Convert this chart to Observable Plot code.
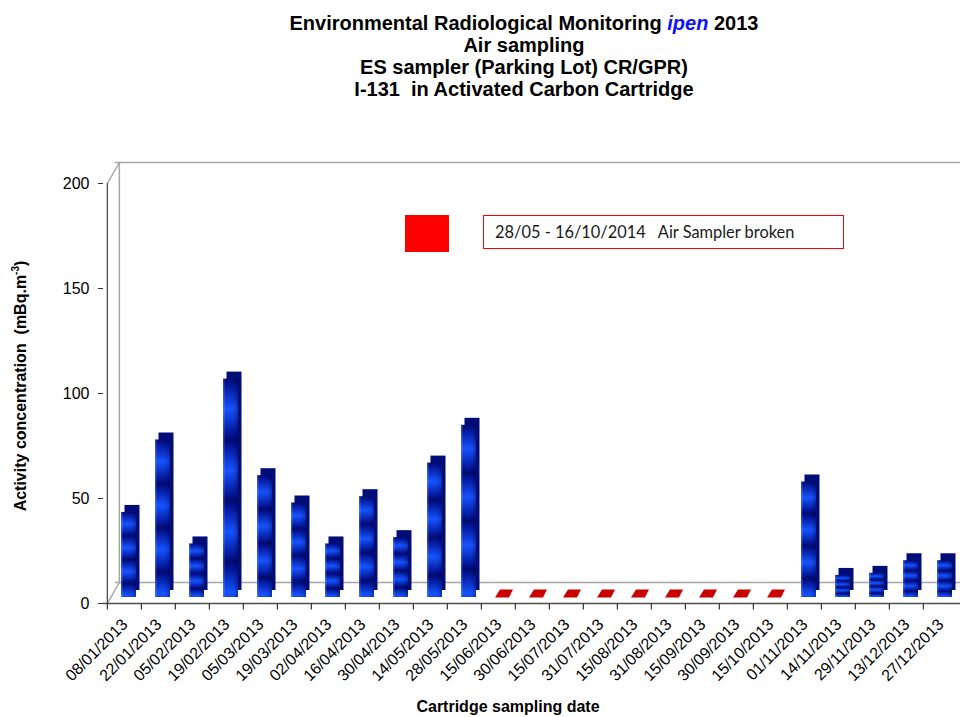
<!DOCTYPE html>
<html><head><meta charset="utf-8">
<script src="https://cdn.jsdelivr.net/npm/d3@7"></script>
<script src="https://cdn.jsdelivr.net/npm/@observablehq/plot@0.6"></script>
<style>
body{margin:0;background:#fff;}
#wrap{position:relative;width:960px;height:717px;overflow:hidden;font-family:"Liberation Sans",Arial,sans-serif;background:#fff;}
#title{position:absolute;left:64px;top:12px;width:920px;text-align:center;font-weight:bold;font-size:20px;line-height:22px;color:#000;}
#title .ipen{color:#1010ff;font-style:italic;}
#chart{position:absolute;left:0;top:100px;}
#ylabel{position:absolute;left:20px;top:386px;transform:translate(-50%,-50%) rotate(-90deg);white-space:nowrap;font-weight:bold;font-size:16px;}
#ylabel sup{font-size:10px;}
#xlabel{position:absolute;left:308px;top:698px;width:400px;text-align:center;font-weight:bold;font-size:16px;}
#lgsq{position:absolute;left:405px;top:215px;width:44px;height:37px;background:#ff0000;}
#lgbox{position:absolute;left:483px;top:215px;width:361px;height:34px;box-sizing:border-box;border:1px solid #ff0000;padding-left:11px;font-family:Lato,"Open Sans",sans-serif;font-size:16.4px;line-height:32px;color:#1a1a1a;white-space:pre;}
</style>
</head><body>
<div id="wrap">
  <div id="title">Environmental Radiological Monitoring <span class="ipen">ipen</span> 2013<br>Air sampling<br>ES sampler (Parking Lot) CR/GPR)<br>I-131&nbsp;&nbsp;in Activated Carbon Cartridge</div>
  <div id="chart"></div>
  <div id="ylabel">Activity concentration&nbsp;&nbsp;(mBq.m<sup>-3</sup>)</div>
  <div id="xlabel">Cartridge sampling date</div>
  <div id="lgsq"></div>
  <div id="lgbox">28/05 - 16/10/2014   Air Sampler broken</div>
</div>
<script>
// ---- data ----
const dates = ["08/01/2013","22/01/2013","05/02/2013","19/02/2013","05/03/2013","19/03/2013","02/04/2013","16/04/2013","30/04/2013","14/05/2013","28/05/2013","15/06/2013","30/06/2013","15/07/2013","31/07/2013","15/08/2013","31/08/2013","15/09/2013","30/09/2013","15/10/2013","01/11/2013","14/11/2013","29/11/2013","13/12/2013","27/12/2013"];
const values = [40.5, 75, 25.5, 104, 58, 45, 25.5, 48, 28.5, 64, 82, 0, 0, 0, 0, 0, 0, 0, 0, 0, 55, 10.5, 11.5, 17.5, 17.5];
const brokenDates = ["15/06/2013","30/06/2013","15/07/2013","31/07/2013","15/08/2013","31/08/2013","15/09/2013","30/09/2013","15/10/2013"];
const yTicks = [0, 50, 100, 150, 200];

const data = dates.map((d, i) => ({date: d, value: values[i], broken: brokenDates.includes(d)}));
const okData = data.filter(d => !d.broken);
const brokenData = data.filter(d => d.broken);

const W = 960, H = 617, ML = 103, MR = 0, MT = 83, MB = 114;
const bw = (W - ML - MR) / dates.length;
const DX = 12, DY = -21; // 3D depth of the wall

const diag = {draw(ctx) { ctx.moveTo(0, 0); ctx.lineTo(DX, DY); }};
const vtick = {draw(ctx) { ctx.moveTo(0, 0); ctx.lineTo(0, 6); }};
const para = {draw(ctx) { ctx.moveTo(-9, 4); ctx.lineTo(-4, -4); ctx.lineTo(9, -4); ctx.lineTo(5, 4); ctx.closePath(); }};

const plot = Plot.plot({
  width: W, height: H, marginLeft: ML, marginRight: MR, marginTop: MT, marginBottom: MB,
  style: {fontFamily: "'Liberation Sans', Arial, sans-serif", background: "transparent", color: "#000"},
  x: {type: "band", domain: dates, padding: 0, axis: null},
  y: {domain: [0, 200], axis: null},
  marks: [
    // back wall and floor
    Plot.ruleY([0, 200], {dx: DX, dy: DY, stroke: "#a6a6a6", strokeWidth: 1.5}),
    Plot.ruleX([dates[0]], {y1: 0, y2: 200, dx: -bw / 2 + DX, dy: DY, stroke: "#a6a6a6", strokeWidth: 1.5}),
    Plot.dot([0, 200], {x: () => dates[0], y: d => d, dx: -bw / 2, symbol: diag, fill: "none", stroke: "#a6a6a6", strokeWidth: 1.5}),
    // axes lines
    Plot.ruleX([dates[0]], {y1: 0, y2: 200, dx: -bw / 2, stroke: "#4d4d4d", strokeWidth: 1.3}),
    Plot.ruleY([0], {stroke: "#4d4d4d", strokeWidth: 1.3}),
    Plot.axisY({ticks: yTicks, tickSize: 5, tickPadding: 9, fontSize: 16, label: null, stroke: "#333"}),
    Plot.dot(dates, {x: d => d, y: () => 0, dx: -bw / 2, symbol: vtick, fill: "none", stroke: "#333", strokeWidth: 1.2}),
    Plot.text(dates, {x: d => d, frameAnchor: "bottom", rotate: -45, textAnchor: "end", dx: 4, dy: 22, fontSize: 16, fill: "#000"}),
    // bars (3D)
    Plot.barY(okData, {x: "date", y: "value", insetLeft: 14, insetRight: 5, dx: 3.5, dy: -13, fill: "#000c78"}),
    Plot.barY(okData, {x: "date", y: "value", insetLeft: 14, insetRight: 5, dy: -6, fill: "url(#stripes)"}),
    Plot.barY(okData, {x: "date", y: "value", insetLeft: 14, insetRight: 5, dy: -6, fill: "url(#hshade)"}),
    Plot.dot(brokenData, {x: "date", y: "value", dx: 5.5, dy: -10, symbol: para, fill: "#c80000", stroke: "none"})
  ]
});

const defs = document.createElementNS("http://www.w3.org/2000/svg", "defs");
defs.innerHTML = `
<linearGradient id="stripes" x1="0" y1="0" x2="0" y2="0.14" spreadMethod="reflect">
  <stop offset="0" stop-color="#000a6a"/>
  <stop offset="0.15" stop-color="#001090"/>
  <stop offset="1" stop-color="#1452ff"/>
</linearGradient>
<linearGradient id="hshade" x1="0" y1="0" x2="1" y2="0">
  <stop offset="0" stop-color="#8fb0ff" stop-opacity="0.35"/>
  <stop offset="0.15" stop-color="#ffffff" stop-opacity="0"/>
  <stop offset="0.75" stop-color="#000030" stop-opacity="0.05"/>
  <stop offset="1" stop-color="#000030" stop-opacity="0.35"/>
</linearGradient>`;
plot.prepend(defs);
document.getElementById("chart").appendChild(plot);
</script>
</body></html>
